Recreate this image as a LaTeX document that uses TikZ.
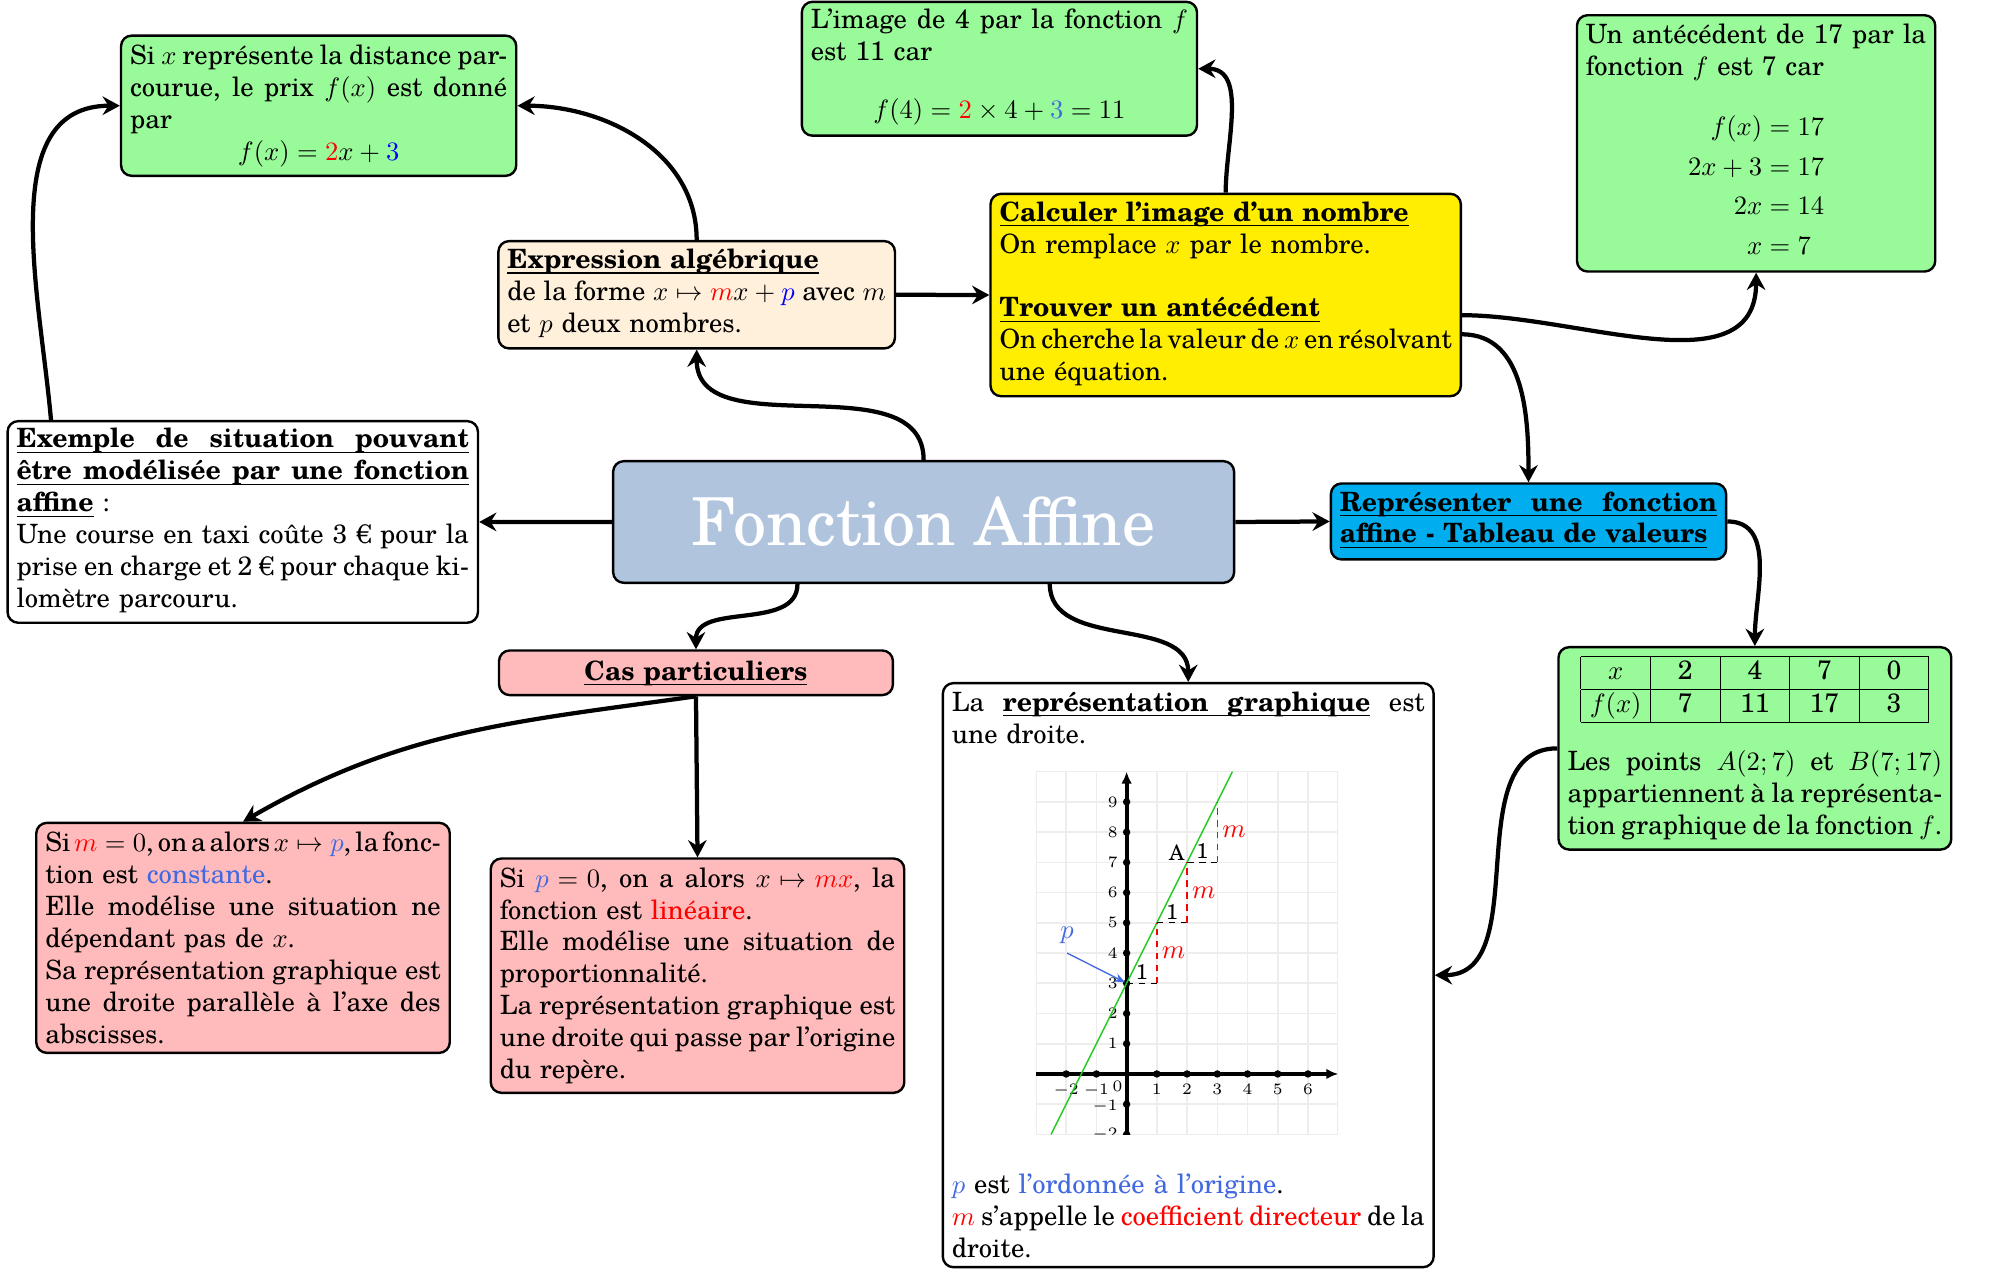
\documentclass[tikz,border=0pt]{standalone}
\usepackage{amsmath}
\usepackage{fontspec}
\setmainfont{texgyreschola}[Extension=.otf,UprightFont=*-regular,BoldFont=*-bold,ItalicFont=*-italic,BoldItalicFont=*-bolditalic]
\usetikzlibrary{arrows.meta}

\definecolor{palegrn}{HTML}{99FA99}
\definecolor{beige}{HTML}{FFF0DB}
\definecolor{yel}{HTML}{FFEE00}
\definecolor{steel}{HTML}{B0C4DE}
\definecolor{cyanbox}{HTML}{00AEEF}
\definecolor{pinkbox}{HTML}{FFBBBB}
\definecolor{royal}{HTML}{4169E1}
\definecolor{gridgray}{HTML}{EDEDED}
\definecolor{linegreen}{HTML}{22CC22}

% justified line, centred line, underlined box, underline filler, table cell
\newcommand\jl[1]{\makebox[\hsize][s]{\spaceskip=0.26em plus 0.8em minus 0.2em\relax #1}}
\newcommand\ctr[1]{\makebox[\hsize][c]{#1}}
\newcommand\ulb[1]{\leavevmode\setbox0=\hbox{#1}\rlap{\rule[-1.9pt]{\wd0}{0.45pt}}\box0\relax}
\newcommand\ulfill{\leaders\hrule height -1.45pt depth 1.9pt\hfill}
\newcommand\cell[1]{\makebox[26.2pt]{#1}}

\begin{document}
\begin{tikzpicture}[x=0.48pt,y=0.48pt,
  bx/.style={draw, line width=0.9pt, rounded corners=4pt, inner xsep=3.4pt, inner ysep=0pt,
             anchor=north west, align=left},
  conn/.style={line width=1.6pt, -{Stealth[length=6.5pt,width=7pt,inset=2.2pt]}},
  axis/.style={line width=1.5pt, -{Latex[length=4.5pt,width=4pt]}},
  tick/.style={inner sep=0pt, font=\fontsize{6}{7}\selectfont},
  lab/.style={inner sep=0pt, font=\fontsize{8}{9.6}\selectfont}]
\useasboundingbox (0,0) rectangle (1568,997);

% ---------- boxes ----------
\node[bx, fill=palegrn, text width=142pt, text height=11pt, text depth=41.8pt] (ex) at (94,970) {%
\jl{Si $x$ représente la distance par-}\\
\jl{courue, le prix $f(x)$ est donné}\\
par\\
\ctr{$f(x)=\textcolor{red}{2}x+\textcolor{blue}{3}$}};

\node[bx, fill=palegrn, text width=142pt, text height=10pt, text depth=40.4pt] (img) at (628,996.5) {%
\jl{L’image de 4 par la fonction $f$}\\
est 11 car\\[9.8pt]
\ctr{$f(4)=\textcolor{red}{2}\times4+\textcolor{royal}{3}=11$}};

\node[bx, fill=palegrn, text width=128.1pt, text height=10.8pt, text depth=85.7pt] (ant) at (1236,986) {%
\jl{Un antécédent de 17 par la}\\
fonction $f$ est 7 car\\[10.4pt]
\ctr{$\begin{aligned}[t]f(x)&=17\\2x+3&=17\\2x&=14\\x&=7\end{aligned}$}};

\node[bx, fill=beige, text width=142.5pt, text height=10.3pt, text depth=30.1pt] (expr) at (390,808.8) {%
\ulb{\textbf{Expression algébrique}}\\
\jl{de la forme $x\mapsto\textcolor{red}{m}x+\textcolor{blue}{p}$ avec $m$}\\
et $p$ deux nombres.};

\node[bx, fill=yel, text width=170.3pt, text height=10.3pt, text depth=65.9pt] (calc) at (776,845.9) {%
\ulb{\textbf{Calculer l’image d’un nombre}}\\
On remplace $x$ par le nombre.\\[12pt]
\ulb{\textbf{Trouver un antécédent}}\\
\jl{On cherche la valeur de $x$ en résolvant}\\
une équation.};

\node[bx, fill=white, text width=170.3pt, text height=10.1pt, text depth=65.8pt] (situation) at (5,667.6) {%
\ulb{\jl{\bfseries Exemple de situation pouvant}}\\
\ulb{\jl{\bfseries être modélisée par une fonction}}\\
\ulb{\textbf{affine}} :\\
\jl{Une course en taxi coûte 3 € pour la}\\
\jl{prise en charge et 2 € pour chaque ki-}\\
lomètre parcouru.};

\node[draw, line width=0.9pt, rounded corners=4pt, fill=steel, text=white, anchor=north west,
      minimum width=233.8pt, minimum height=45.8pt, inner sep=0pt,
      font=\fontsize{24.88}{30}\selectfont] (main) at (480,636.2) {Fonction Affine};

\node[bx, fill=cyanbox, text width=142pt, text height=10.4pt, text depth=18.2pt] (rep) at (1043,618.7) {%
\ulb{\jl{\bfseries Représenter une fonction}}\\
\ulb{\textbf{affine - Tableau de valeurs}}};

\node[bx, fill=pinkbox, text width=141.5pt, text height=11.2pt, text depth=5.6pt] (cas) at (390.5,487.7) {%
\ctr{\ulb{\textbf{Cas particuliers}}}};

\node[bx, fill=pinkbox, text width=148.9pt, text height=10.9pt, text depth=75.7pt] (m0) at (27.5,352.5) {%
\jl{Si $\textcolor{red}{m}=0$, on a alors $x\mapsto\textcolor{royal}{p}$, la fonc-}\\
tion est \textcolor{royal}{constante}.\\
\jl{Elle modélise une situation ne}\\
dépendant pas de $x$.\\
\jl{Sa représentation graphique est}\\
\jl{une droite parallèle à l’axe des}\\
abscisses.};

\node[bx, fill=pinkbox, text width=148.9pt, text height=10.8pt, text depth=77.4pt] (p0) at (384,324.5) {%
\jl{Si $\textcolor{royal}{p}=0$, on a alors $x\mapsto\textcolor{red}{mx}$, la}\\
fonction est \textcolor{red}{linéaire}.\\
\jl{Elle modélise une situation de}\\
proportionnalité.\\
\jl{La représentation graphique est}\\
\jl{une droite qui passe par l’origine}\\
du repère.};

\node[bx, fill=white, text width=178pt, text height=10.6pt, text depth=209.3pt] (graph) at (738.6,462.1) {%
\leavevmode\hbox to\hsize{La\hfill\ulb{\textbf{représentation}}\ulfill\ulb{\textbf{graphique}}\hfill est}\\
une droite.\\[157.6pt]
\textcolor{royal}{$p$} est \textcolor{royal}{l’ordonnée à l’origine}.\\
\jl{\textcolor{red}{$m$} s’appelle le \textcolor{red}{coefficient directeur} de la}\\
droite.};

\node[bx, fill=palegrn, text width=141.1pt, text height=3.7pt, text depth=72.5pt] (table) at (1221.5,490.3) {%
\ctr{\setlength\tabcolsep{0pt}\begin{tabular}[t]{|c|c|c|c|c|}\hline
\cell{$x$}&\cell{2}&\cell{4}&\cell{7}&\cell{0}\\\hline
\cell{$f(x)$}&\cell{7}&\cell{11}&\cell{17}&\cell{3}\\\hline
\end{tabular}}\\[9.4pt]
\jl{Les points $A(2;7)$ et $B(7;17)$}\\
\jl{appartiennent à la représenta-}\\
\jl{tion graphique de la fonction $f$.}};

% ---------- graph of f(x)=2x+3 ----------
\coordinate (O) at (883.7,154.6);
\begin{scope}[shift={(O)}, x=0.4cm, y=0.4cm]
  \begin{scope}
    \clip (-3,-2) rectangle (7,10);
    \draw[gridgray, line width=0.6pt, step=1] (-3,-2) grid (7,10);
    \draw[axis] (-3,0) -- (7,0);
    \draw[axis] (0,-2) -- (0,10);
    \foreach \i in {-2,-1,1,2,3,4,5,6} {
      \fill (\i,0) circle (1.4pt);
      \node[tick, anchor=north] at (\i,-0.31) {$\i$};
    }
    \foreach \j in {-2,1,2,3,4,5,6,7,8,9} {
      \fill (0,\j) circle (1.4pt);
      \node[tick, anchor=east] at (-0.28,\j) {$\j$};
    }
    \fill (0,-1) circle (1.4pt);
    \node[tick, anchor=east] at (-0.28,-1.07) {$-1$};
    \node[tick] at (-0.3,-0.42) {$0$};
    \draw[linegreen, line width=0.55pt] (-2.5,-2) -- (3.5,10);
  \end{scope}
  \foreach \a/\b in {0/3,1/5,2/7} {
    \draw[line width=0.5pt, dash pattern=on 2.5pt off 2pt] (\a,\b) -- (\a+1,\b);
    \draw[red, line width=0.5pt, dash pattern=on 2.5pt off 2pt] (\a+1,\b) -- (\a+1,\b+2);
    \node[lab] at (\a+0.5,\b+0.36) {1};
    \node[red, inner sep=0pt] at (\a+1.55,\b+1) {$m$};
  }
  \node[lab] at (1.66,7.33) {A};
  \node[royal, inner sep=0pt] at (-1.97,4.6) {$p$};
  \draw[royal, line width=0.5pt, -{Stealth[length=4pt,width=3.2pt]}] (-1.97,4.0) -- (-0.05,3.03);
\end{scope}

% ---------- connectors ----------
\draw[conn] (main.west) -- (situation.east);
\draw[conn] (main.east) -- (rep.west);
\draw[conn] (main.north) to[out=90,in=-90] (expr.south);
\draw[conn] (expr.north) to[out=90,in=0] (ex.east);
\draw[conn] ([xshift=16.8pt]situation.north west) to[out=95,in=180] (ex.west);
\draw[conn] (expr.east) -- (calc.west);
\draw[conn] (calc.north) to[out=90,in=0] (img.east);
\draw[conn] ([yshift=-7.6pt]calc.east) to[out=0,in=-90] (ant.south);
\draw[conn] ([yshift=-14.8pt]calc.east) to[out=0,in=90] (rep.north);
\draw[conn] (rep.east) to[out=0,in=90] (table.north);
\draw[conn] (table.west) to[out=180,in=0] (graph.east);
\draw[conn] ([xshift=-47.5pt]main.south) to[out=-90,in=90] (cas.north);
\draw[conn] ([xshift=47.5pt]main.south) to[out=-90,in=90] (graph.north);
\draw[conn] (cas.south) to[out=188,in=30] (m0.north);
\draw[conn] (cas.south) -- (p0.north);
\end{tikzpicture}
\end{document}
